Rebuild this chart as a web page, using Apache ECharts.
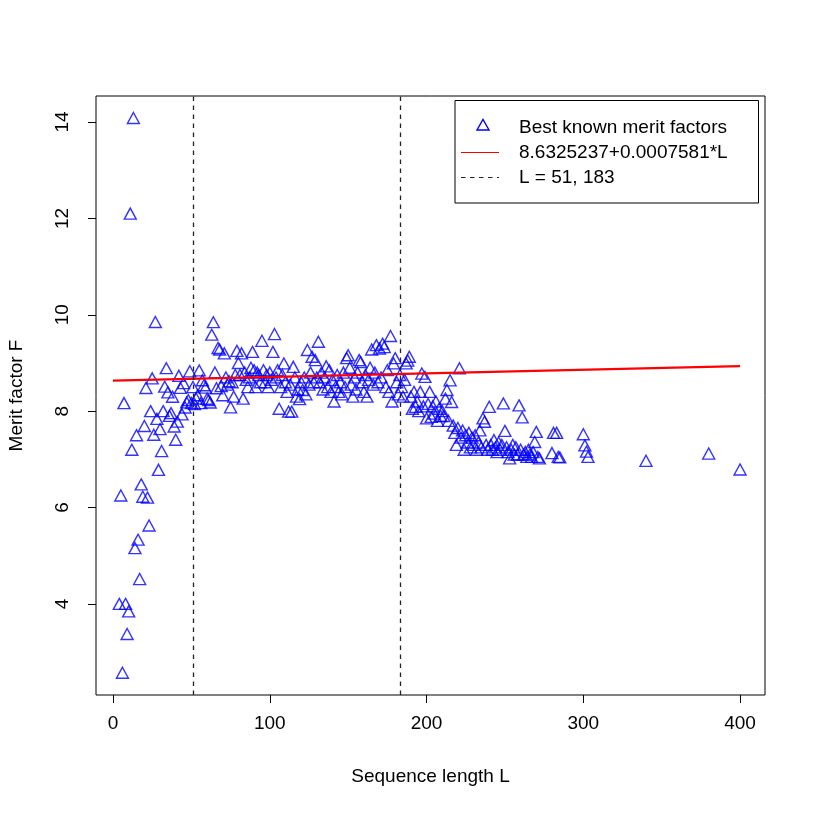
<!DOCTYPE html>
<html><head><meta charset="utf-8">
<script src="https://cdn.jsdelivr.net/npm/echarts@6/dist/echarts.min.js"></script>
<style>html,body{margin:0;padding:0;background:#fff}#c{width:814px;height:814px}</style>
</head><body><div id="c"></div>
<script>
const seqLength = [
  4,5,6,7,8,9,10,11,12,13,
  14,15,16,17,18,19,20,21,22,23,
  24,25,26,27,28,29,30,31,32,33,
  34,35,36,37,38,39,40,41,42,43,
  44,45,46,47,48,49,50,51,52,53,
  54,55,56,57,58,59,60,61,62,63,
  64,65,66,67,68,69,70,71,72,73,
  74,75,76,77,78,79,80,81,82,83,
  84,85,86,87,88,89,90,91,92,93,
  94,95,96,97,98,99,100,101,102,103,
  104,105,106,107,108,109,110,111,112,113,
  114,115,116,117,118,119,120,121,122,123,
  124,125,126,127,128,129,130,131,132,133,
  134,135,136,137,138,139,140,141,142,143,
  144,145,146,147,148,149,150,151,152,153,
  154,155,156,157,158,159,160,161,162,163,
  164,165,166,167,168,169,170,171,172,173,
  174,175,176,177,178,179,180,181,182,183,
  184,185,186,187,188,189,190,191,192,193,
  194,195,196,197,198,199,200,201,202,203,
  204,205,206,207,208,209,210,211,212,213,
  214,215,216,217,218,219,220,221,222,223,
  224,225,226,227,228,229,230,231,232,233,
  234,235,236,237,238,239,240,241,242,243,
  244,245,246,247,248,249,250,251,252,253,
  254,255,256,257,258,259,260,261,262,263,
  264,265,266,267,268,269,270,271,272,
  280,281,283,284,285,300,301,302,303,340,380,400
];
const meritFactor = [
  4.000,6.250,2.571,8.167,4.000,3.375,3.846,12.100,7.200,14.083,
  5.158,7.500,5.333,4.516,6.480,6.224,7.692,8.481,6.205,5.628,
  8.000,8.681,7.511,9.851,7.840,6.782,7.627,7.172,8.000,8.508,
  8.892,8.390,7.902,7.959,8.299,7.682,7.407,7.782,8.733,8.482,
  7.934,8.581,8.076,8.181,8.229,8.827,8.170,8.500,8.145,8.262,
  8.331,8.845,8.167,8.641,8.538,8.490,8.257,8.232,8.179,9.587,
  9.846,8.802,8.475,9.31,9.28,8.52,8.33,9.20,8.70,8.55,
  8.62,8.08,8.60,8.30,8.75,9.25,9.00,8.75,9.20,8.26,
  8.80,8.65,8.50,8.70,8.90,9.23,8.85,8.50,8.80,8.75,
  8.60,9.46,8.85,8.60,8.75,8.50,8.80,8.65,9.23,9.60,
  8.70,8.85,8.05,8.50,8.75,8.99,8.60,8.40,7.99,8.55,
  7.99,8.92,8.70,8.30,8.45,8.25,8.60,8.44,8.70,8.35,
  9.27,8.55,8.80,9.13,8.60,9.06,8.70,9.44,8.60,8.80,
  8.45,8.70,8.93,8.50,8.85,8.40,8.65,8.20,8.50,8.75,
  8.40,8.60,8.35,8.80,8.50,9.10,9.16,8.90,8.55,8.30,
  8.70,8.45,8.80,9.06,9.02,8.60,8.40,8.75,8.30,8.65,
  8.90,9.28,8.55,8.80,9.37,8.60,9.30,8.70,9.40,9.33,
  8.50,8.85,8.40,9.56,8.20,8.99,9.10,8.60,8.35,8.75,
  8.50,8.30,8.65,8.99,9.05,9.13,8.30,8.05,8.40,8.09,
  8.20,8.00,8.40,8.78,8.10,8.71,7.85,8.15,8.40,7.88,
  8.10,7.95,8.20,7.80,8.05,7.90,8.00,7.90,8.26,8.44,
  7.80,8.64,8.19,7.70,7.55,7.30,7.65,8.89,7.45,7.60,
  7.20,7.50,7.35,7.55,7.25,7.45,7.30,7.50,7.20,7.35,
  7.60,7.25,7.85,7.78,7.30,7.20,8.09,7.30,7.20,7.40,
  7.25,7.15,7.35,7.20,7.30,8.16,7.59,7.25,7.15,7.02,
  7.20,7.30,7.10,7.25,7.10,8.12,7.20,7.87,7.10,7.15,
  7.05,7.20,7.10,7.05,7.15,7.36,7.57,7.05,7.02,
  7.13,7.55,7.55,7.05,7.04,7.52,7.29,7.16,7.05,6.97,7.12,6.79
];
const fitIntercept = 8.6325237;
const fitSlope = 0.0007581;
const fitRange = [0, 400];
const markerLines = [51, 183];
const xTicks = [0, 100, 200, 300, 400];
const yTicks = [4, 6, 8, 10, 12, 14];
const legendLabels = ['Best known merit factors', '8.6325237+0.0007581*L', 'L = 51, 183'];
const xTitle = 'Sequence length L';
const yTitle = 'Merit factor F';

const FONT = '"Liberation Sans", Arial, Helvetica, sans-serif';
const FS = 19;
const points = seqLength.map((l, i) => [l, meritFactor[i]]);
const fitLine = fitRange.map(l => [l, fitIntercept + fitSlope * l]);

const chart = echarts.init(document.getElementById('c'), null, {renderer: 'canvas'});
chart.setOption({
  animation: false,
  backgroundColor: '#fff',
  grid: {left: 96, top: 96, width: 669, height: 599, show: true, borderColor: '#000', borderWidth: 1, backgroundColor: 'transparent', containLabel: false, outerBoundsMode: 'none'},
  xAxis: {
    type: 'value', min: -10.85, max: 415.9,
    axisLine: {show: false, onZero: false},
    splitLine: {show: false},
    axisTick: {show: true, customValues: xTicks, length: 8, lineStyle: {color: '#000', width: 1}},
    axisLabel: {customValues: xTicks, color: '#000', fontSize: FS, fontFamily: FONT, margin: 19},
    name: xTitle, nameLocation: 'middle', nameGap: 72,
    nameTextStyle: {color: '#000', fontSize: FS, fontFamily: FONT}
  },
  yAxis: {
    type: 'value', min: 2.11, max: 14.54,
    axisLine: {show: false, onZero: false},
    splitLine: {show: false},
    axisTick: {show: true, customValues: yTicks, length: 8, lineStyle: {color: '#000', width: 1}},
    axisLabel: {customValues: yTicks, color: '#000', fontSize: FS, fontFamily: FONT, rotate: 90, margin: 24},
    name: yTitle, nameLocation: 'middle', nameGap: 70, nameRotate: 90,
    nameTextStyle: {color: '#000', fontSize: FS, fontFamily: FONT}
  },
  series: [
    {
      type: 'scatter', data: points, symbol: 'triangle', symbolSize: [12, 11],
      itemStyle: {color: 'rgba(0,0,0,0)', borderColor: '#0000ff', borderWidth: 1.4},
      z: 3
    },
    {
      type: 'line', data: fitLine, symbol: 'none',
      lineStyle: {color: '#ff0000', width: 2.2}, z: 4,
      markLine: {
        silent: true, symbol: 'none', label: {show: false},
        lineStyle: {color: '#222', type: [4.5, 4.5], width: 1.3},
        data: markerLines.map(v => ({xAxis: v}))
      }
    }
  ],
  graphic: [
    {type: 'rect', shape: {x: 455, y: 100.5, width: 303.5, height: 102.5}, style: {fill: '#fff', stroke: '#000', lineWidth: 1}, z: 10},
    {type: 'polygon', shape: {points: [[477, 130], [489, 130], [483, 119.5]]}, style: {fill: 'none', stroke: '#0000ff', lineWidth: 1.4}, z: 11},
    {type: 'line', shape: {x1: 461, y1: 152.5, x2: 499, y2: 152.5}, style: {stroke: '#ff0000', lineWidth: 1}, z: 11},
    {type: 'line', shape: {x1: 461, y1: 177.5, x2: 499, y2: 177.5}, style: {stroke: '#222', lineWidth: 1, lineDash: [4.5, 4.5]}, z: 11},
    {type: 'text', x: 519, y: 128, style: {text: legendLabels[0], fill: '#000', font: FS + 'px ' + FONT, textVerticalAlign: 'middle', verticalAlign: 'middle'}, z: 11},
    {type: 'text', x: 519, y: 153, style: {text: legendLabels[1], fill: '#000', font: FS + 'px ' + FONT, textVerticalAlign: 'middle', verticalAlign: 'middle'}, z: 11},
    {type: 'text', x: 519, y: 178, style: {text: legendLabels[2], fill: '#000', font: FS + 'px ' + FONT, textVerticalAlign: 'middle', verticalAlign: 'middle'}, z: 11}
  ]
});
</script>
</body></html>
